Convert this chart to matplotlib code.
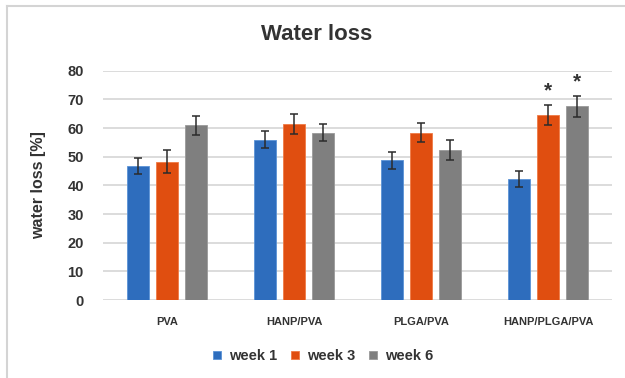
import matplotlib
matplotlib.use("Agg")
import matplotlib.pyplot as plt
import numpy as np

plt.rcParams['font.family'] = ['Liberation Sans', 'DejaVu Sans']

categories = ["PVA", "HANP/PVA", "PLGA/PVA", "HANP/PLGA/PVA"]
series_names = ["week 1", "week 3", "week 6"]
week1 = [46.8, 55.9, 48.7, 42.2]
week3 = [48.3, 61.4, 58.4, 64.7]
week6 = [60.9, 58.3, 52.3, 67.6]
err1 = [2.9, 2.9, 2.9, 2.9]
err3 = [4.0, 3.4, 3.4, 3.5]
err6 = [3.4, 3.0, 3.5, 3.6]
# significance markers: (series index, category index)
significant = [(1, 3), (2, 3)]
y_ticks = [0, 10, 20, 30, 40, 50, 60, 70, 80]

colors = ["#2e6dbd", "#e04e10", "#7f7f7f"]
edge_colors = ["#5b93d6", "#f07a45", "#9a9a9a"]
text_color = "#333333"

values = [week1, week3, week6]
errors = [err1, err3, err6]

fig = plt.figure(figsize=(6.25, 3.78), dpi=100)
ax = fig.add_axes([0.1653, 0.2063, 0.8134, 0.6067])

x = np.arange(len(categories))
step = 0.228
width = 0.171
for i, (vals, errs) in enumerate(zip(values, errors)):
    pos = x + (i - 1) * step
    ax.bar(pos, vals, width, color=colors[i], edgecolor=edge_colors[i],
           linewidth=0.6, label=series_names[i], zorder=3)
    ax.errorbar(pos, vals, yerr=errs, fmt="none", ecolor="#2b2b2b",
                elinewidth=1.1, capsize=2.9, capthick=1.1, zorder=4)

for s, c in significant:
    top = values[s][c] + errors[s][c]
    ax.annotate("*", (x[c] + (s - 1) * step, top), xytext=(0, 3),
                textcoords="offset points", ha="center", va="bottom",
                fontsize=15, fontweight="bold", color=text_color)

ax.set_xlim(-0.5, len(categories) - 0.5)
ax.set_ylim(0, 80)
ax.set_yticks(y_ticks)
ax.set_yticklabels([str(t) for t in y_ticks], fontsize=10.5,
                   fontweight="bold", color=text_color)
ax.set_xticks(x)
ax.set_xticklabels(categories, fontsize=8, fontweight="bold", color=text_color)
ax.tick_params(axis="y", length=0, pad=14)
ax.tick_params(axis="x", length=0, pad=12)
ax.yaxis.grid(True, color="#d6d6d6", linewidth=1.2, zorder=0)
ax.set_axisbelow(True)
for sp in ax.spines.values():
    sp.set_visible(False)

ax.set_ylabel("water loss [%]", fontsize=11.5, fontweight="bold",
              color=text_color)
ax.yaxis.set_label_coords(-0.113, 0.5)

fig.text(0.506, 0.91, "Water loss", ha="center", va="center",
         fontsize=16, fontweight="bold", color=text_color)

leg = fig.legend(loc="center", bbox_to_anchor=(0.517, 0.058), ncol=3,
                 frameon=False, handlelength=0.5, handleheight=0.5,
                 handletextpad=0.55, columnspacing=1.0,
                 prop={"size": 10.5, "weight": "bold"})
for t in leg.get_texts():
    t.set_color(text_color)

# outer frame lines along the top and left edges
fig.add_artist(plt.Line2D([0.011, 1.0], [0.984, 0.984], color="#d4d4d4",
                          linewidth=1.5, transform=fig.transFigure))
fig.add_artist(plt.Line2D([0.011, 0.011], [0.0, 0.984], color="#d4d4d4",
                          linewidth=1.5, transform=fig.transFigure))

fig.savefig("out.png", dpi=100)
